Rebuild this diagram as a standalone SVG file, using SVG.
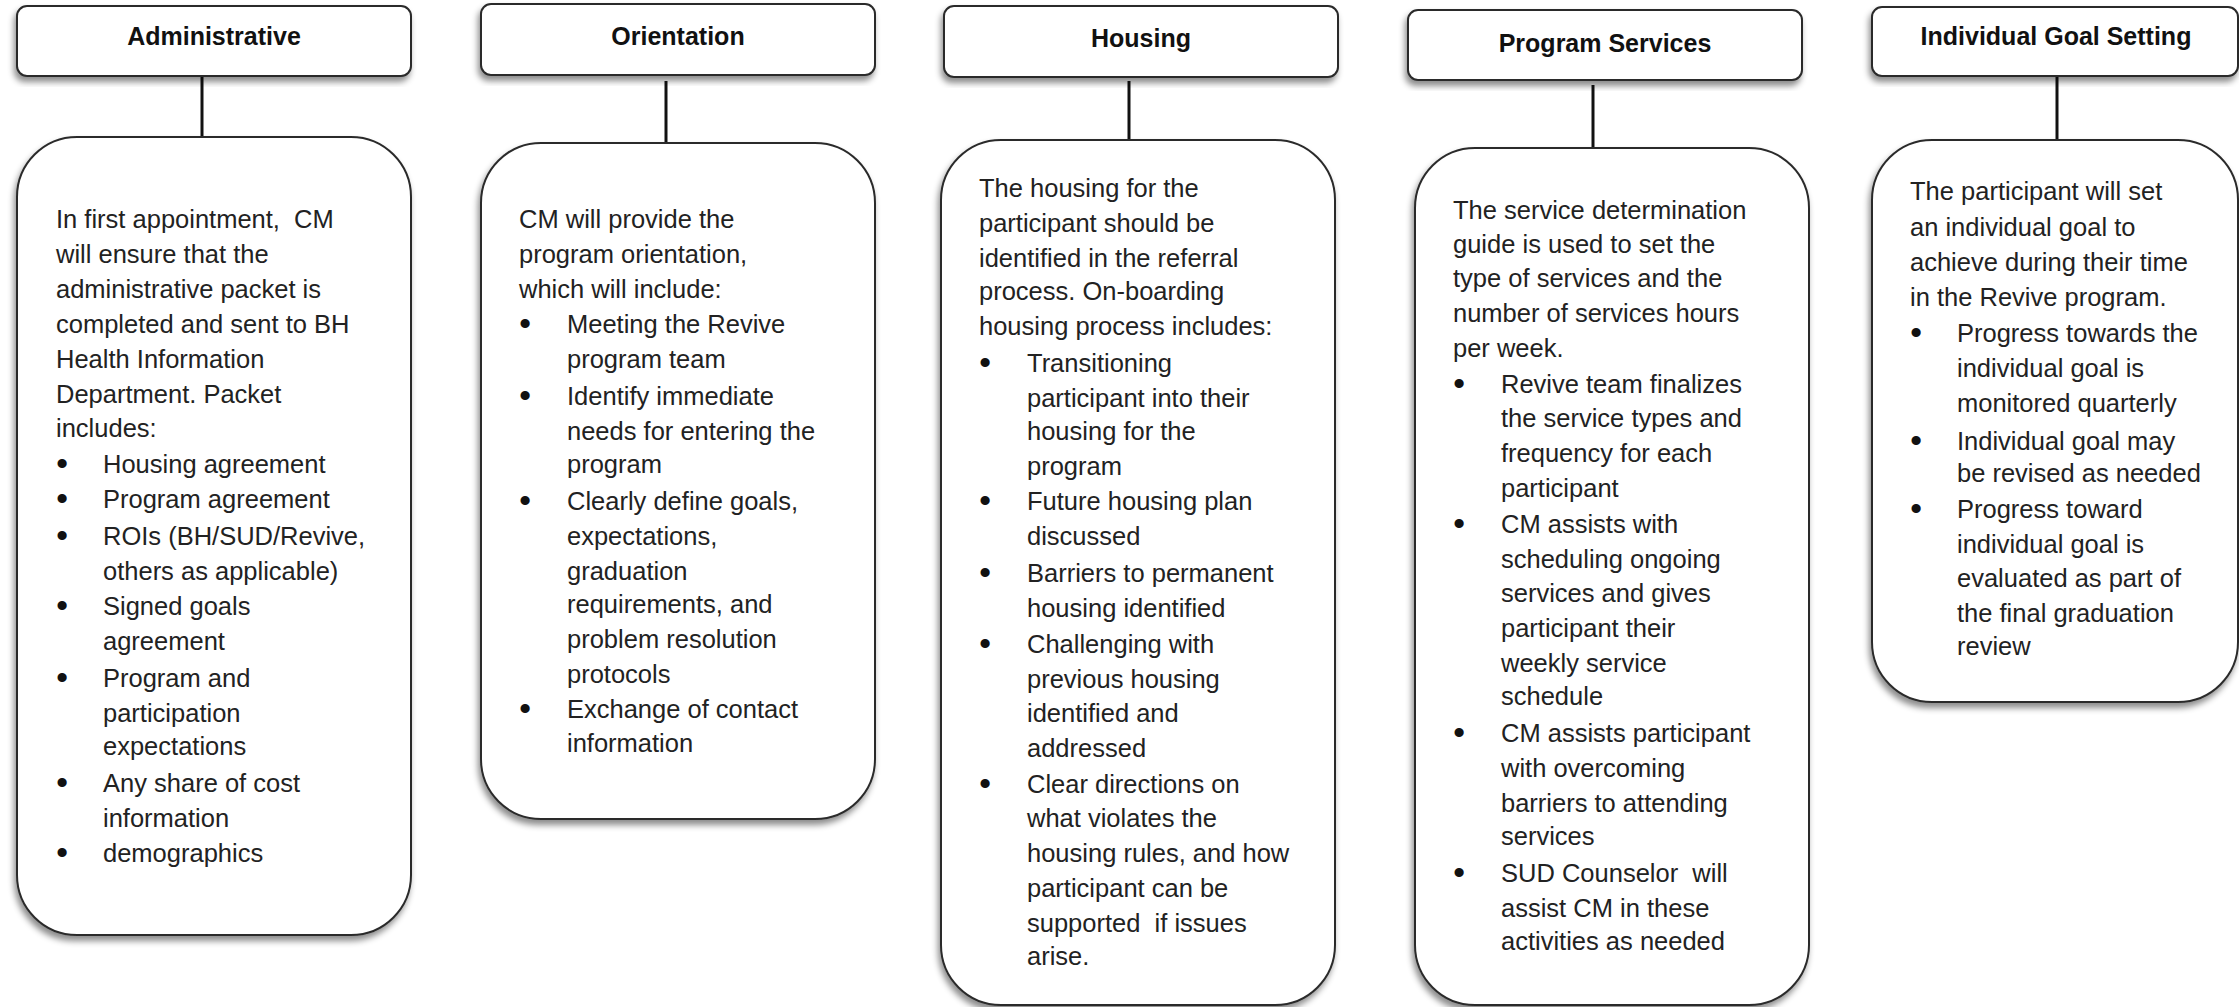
<svg xmlns="http://www.w3.org/2000/svg" width="2239" height="1007" viewBox="0 0 2239 1007">
  <defs>
    <filter id="shadow" x="-10%" y="-10%" width="120%" height="125%">
      <feDropShadow dx="-2" dy="5" stdDeviation="3" flood-color="#000" flood-opacity="0.45"/>
    </filter>
    <style>
      .hdr { fill: #fff; stroke: #2b2b2b; stroke-width: 2; filter: url(#shadow); }
      .card { fill: #fff; stroke: #2b2b2b; stroke-width: 2; filter: url(#shadow); }
      .title { font-family: "Liberation Sans", Arial, sans-serif; font-weight: bold; font-size: 25px; fill: #111; text-anchor: middle; }
      .txt { font-family: "Liberation Sans", Arial, sans-serif; font-size: 25.5px; fill: #222; white-space: pre; }
      .bul { font-family: "Liberation Sans", Arial, sans-serif; font-size: 32px; font-weight: bold; fill: #111; text-anchor: middle; }
      .conn line { stroke: #111; stroke-width: 3; }
    </style>
  </defs>
  <rect width="2239" height="1007" fill="#fff"/>

  <!-- connectors from each heading down to its detail card -->
  <g id="connectors" class="conn">
    <line x1="202" y1="76" x2="202" y2="137"/>
    <line x1="666" y1="81" x2="666" y2="143"/>
    <line x1="1129" y1="81" x2="1129" y2="140"/>
    <line x1="1593" y1="85" x2="1593" y2="148"/>
    <line x1="2057" y1="76" x2="2057" y2="140"/>
  </g>

  <!-- Administrative -->
  <g id="administrative-header">
    <rect class="hdr" x="17" y="6" width="394" height="70" rx="10"/>
    <text class="title" x="214" y="45">Administrative</text>
  </g>
  <g id="administrative-detail">
    <rect class="card" x="17" y="137" width="394" height="798" rx="60"/>
    <text class="txt">
      <tspan x="56" y="228">In first appointment,  CM</tspan>
      <tspan x="56" y="263">will ensure that the</tspan>
      <tspan x="56" y="298">administrative packet is</tspan>
      <tspan x="56" y="333">completed and sent to BH</tspan>
      <tspan x="56" y="368">Health Information</tspan>
      <tspan x="56" y="403">Department. Packet</tspan>
      <tspan x="56" y="437">includes:</tspan>
      <tspan x="103" y="473">Housing agreement</tspan>
      <tspan x="103" y="508">Program agreement</tspan>
      <tspan x="103" y="545">ROIs (BH/SUD/Revive,</tspan>
      <tspan x="103" y="580">others as applicable)</tspan>
      <tspan x="103" y="615">Signed goals</tspan>
      <tspan x="103" y="650">agreement</tspan>
      <tspan x="103" y="687">Program and</tspan>
      <tspan x="103" y="722">participation</tspan>
      <tspan x="103" y="755">expectations</tspan>
      <tspan x="103" y="792">Any share of cost</tspan>
      <tspan x="103" y="827">information</tspan>
      <tspan x="103" y="862">demographics</tspan>
    </text>
    <text class="bul" x="62" y="474">•</text>
    <text class="bul" x="62" y="509">•</text>
    <text class="bul" x="62" y="546">•</text>
    <text class="bul" x="62" y="616">•</text>
    <text class="bul" x="62" y="688">•</text>
    <text class="bul" x="62" y="793">•</text>
    <text class="bul" x="62" y="863">•</text>
  </g>

  <!-- Orientation -->
  <g id="orientation-header">
    <rect class="hdr" x="481" y="4" width="394" height="71" rx="10"/>
    <text class="title" x="678" y="45">Orientation</text>
  </g>
  <g id="orientation-detail">
    <rect class="card" x="481" y="143" width="394" height="676" rx="60"/>
    <text class="txt">
      <tspan x="519" y="228">CM will provide the</tspan>
      <tspan x="519" y="263">program orientation,</tspan>
      <tspan x="519" y="298">which will include:</tspan>
      <tspan x="567" y="333">Meeting the Revive</tspan>
      <tspan x="567" y="368">program team</tspan>
      <tspan x="567" y="405">Identify immediate</tspan>
      <tspan x="567" y="440">needs for entering the</tspan>
      <tspan x="567" y="473">program</tspan>
      <tspan x="567" y="510">Clearly define goals,</tspan>
      <tspan x="567" y="545">expectations,</tspan>
      <tspan x="567" y="580">graduation</tspan>
      <tspan x="567" y="613">requirements, and</tspan>
      <tspan x="567" y="648">problem resolution</tspan>
      <tspan x="567" y="683">protocols</tspan>
      <tspan x="567" y="718">Exchange of contact</tspan>
      <tspan x="567" y="752">information</tspan>
    </text>
    <text class="bul" x="525" y="334">•</text>
    <text class="bul" x="525" y="406">•</text>
    <text class="bul" x="525" y="511">•</text>
    <text class="bul" x="525" y="719">•</text>
  </g>

  <!-- Housing -->
  <g id="housing-header">
    <rect class="hdr" x="944" y="6" width="394" height="71" rx="10"/>
    <text class="title" x="1141" y="47">Housing</text>
  </g>
  <g id="housing-detail">
    <rect class="card" x="941" y="140" width="394" height="865" rx="60"/>
    <text class="txt">
      <tspan x="979" y="197">The housing for the</tspan>
      <tspan x="979" y="232">participant should be</tspan>
      <tspan x="979" y="267">identified in the referral</tspan>
      <tspan x="979" y="300">process. On-boarding</tspan>
      <tspan x="979" y="335">housing process includes:</tspan>
      <tspan x="1027" y="372">Transitioning</tspan>
      <tspan x="1027" y="407">participant into their</tspan>
      <tspan x="1027" y="440">housing for the</tspan>
      <tspan x="1027" y="475">program</tspan>
      <tspan x="1027" y="510">Future housing plan</tspan>
      <tspan x="1027" y="545">discussed</tspan>
      <tspan x="1027" y="582">Barriers to permanent</tspan>
      <tspan x="1027" y="617">housing identified</tspan>
      <tspan x="1027" y="653">Challenging with</tspan>
      <tspan x="1027" y="688">previous housing</tspan>
      <tspan x="1027" y="722">identified and</tspan>
      <tspan x="1027" y="757">addressed</tspan>
      <tspan x="1027" y="793">Clear directions on</tspan>
      <tspan x="1027" y="827">what violates the</tspan>
      <tspan x="1027" y="862">housing rules, and how</tspan>
      <tspan x="1027" y="897">participant can be</tspan>
      <tspan x="1027" y="932">supported  if issues</tspan>
      <tspan x="1027" y="965">arise.</tspan>
    </text>
    <text class="bul" x="985" y="373">•</text>
    <text class="bul" x="985" y="511">•</text>
    <text class="bul" x="985" y="583">•</text>
    <text class="bul" x="985" y="654">•</text>
    <text class="bul" x="985" y="794">•</text>
  </g>

  <!-- Program Services -->
  <g id="program-services-header">
    <rect class="hdr" x="1408" y="10" width="394" height="70" rx="10"/>
    <text class="title" x="1605" y="52">Program Services</text>
  </g>
  <g id="program-services-detail">
    <rect class="card" x="1415" y="148" width="394" height="857" rx="60"/>
    <text class="txt">
      <tspan x="1453" y="219">The service determination</tspan>
      <tspan x="1453" y="253">guide is used to set the</tspan>
      <tspan x="1453" y="287">type of services and the</tspan>
      <tspan x="1453" y="322">number of services hours</tspan>
      <tspan x="1453" y="357">per week.</tspan>
      <tspan x="1501" y="393">Revive team finalizes</tspan>
      <tspan x="1501" y="427">the service types and</tspan>
      <tspan x="1501" y="462">frequency for each</tspan>
      <tspan x="1501" y="497">participant</tspan>
      <tspan x="1501" y="533">CM assists with</tspan>
      <tspan x="1501" y="568">scheduling ongoing</tspan>
      <tspan x="1501" y="602">services and gives</tspan>
      <tspan x="1501" y="637">participant their</tspan>
      <tspan x="1501" y="672">weekly service</tspan>
      <tspan x="1501" y="705">schedule</tspan>
      <tspan x="1501" y="742">CM assists participant</tspan>
      <tspan x="1501" y="777">with overcoming</tspan>
      <tspan x="1501" y="812">barriers to attending</tspan>
      <tspan x="1501" y="845">services</tspan>
      <tspan x="1501" y="882">SUD Counselor  will</tspan>
      <tspan x="1501" y="917">assist CM in these</tspan>
      <tspan x="1501" y="950">activities as needed</tspan>
    </text>
    <text class="bul" x="1459" y="394">•</text>
    <text class="bul" x="1459" y="534">•</text>
    <text class="bul" x="1459" y="743">•</text>
    <text class="bul" x="1459" y="883">•</text>
  </g>

  <!-- Individual Goal Setting -->
  <g id="goal-setting-header">
    <rect class="hdr" x="1872" y="7" width="366" height="69" rx="10"/>
    <text class="title" x="2056" y="45">Individual Goal Setting</text>
  </g>
  <g id="goal-setting-detail">
    <rect class="card" x="1872" y="140" width="366" height="562" rx="60"/>
    <text class="txt">
      <tspan x="1910" y="200">The participant will set</tspan>
      <tspan x="1910" y="236">an individual goal to</tspan>
      <tspan x="1910" y="271">achieve during their time</tspan>
      <tspan x="1910" y="306">in the Revive program.</tspan>
      <tspan x="1957" y="342">Progress towards the</tspan>
      <tspan x="1957" y="377">individual goal is</tspan>
      <tspan x="1957" y="412">monitored quarterly</tspan>
      <tspan x="1957" y="450">Individual goal may</tspan>
      <tspan x="1957" y="482">be revised as needed</tspan>
      <tspan x="1957" y="518">Progress toward</tspan>
      <tspan x="1957" y="553">individual goal is</tspan>
      <tspan x="1957" y="587">evaluated as part of</tspan>
      <tspan x="1957" y="622">the final graduation</tspan>
      <tspan x="1957" y="655">review</tspan>
    </text>
    <text class="bul" x="1916" y="343">•</text>
    <text class="bul" x="1916" y="451">•</text>
    <text class="bul" x="1916" y="519">•</text>
  </g>
</svg>
